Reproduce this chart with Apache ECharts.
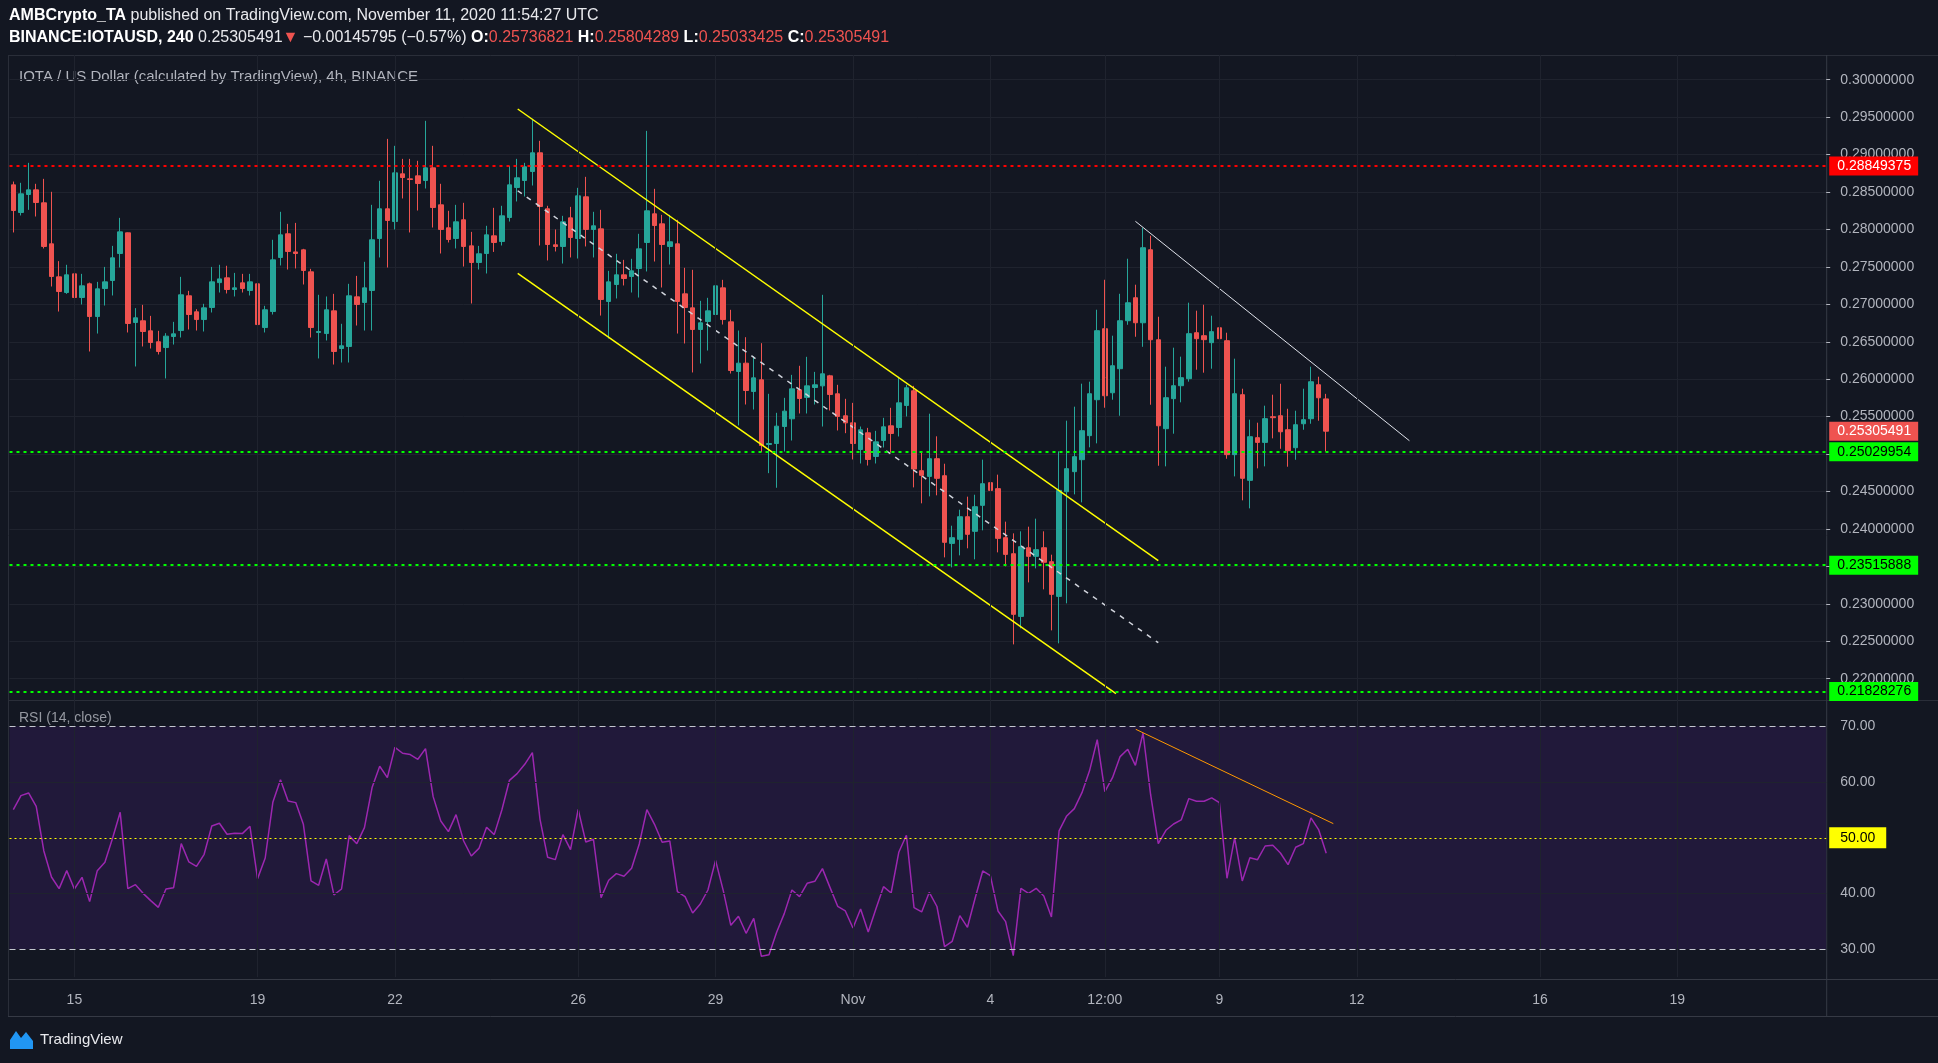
<!DOCTYPE html>
<html><head><meta charset="utf-8">
<script src="https://cdn.jsdelivr.net/npm/echarts@6.0.0/dist/echarts.min.js"></script>
<style>html,body{margin:0;padding:0;background:#131722;overflow:hidden}#c{width:1938px;height:1063px}</style>
</head><body><div id="c"></div>
<script>
// ---------------- DATA ----------------
const opens = [
0.28596,0.28227,0.28467,0.28529,0.28356,0.27808,0.27367,0.27158,0.27407,0.27091,
0.27274,0.26837,0.27211,0.27318,0.27679,0.27955,0.26757,0.26780,0.26646,0.26500,
0.26423,0.26570,0.26650,0.27114,0.26900,0.26797,0.26958,0.27290,0.27354,0.27198,
0.27287,0.27185,0.27274,0.26690,0.26904,0.27626,0.27942,0.27700,0.27728,0.27434,
0.26624,0.26610,0.26913,0.26410,0.26437,0.27100,0.27025,0.27185,0.27879,0.28276,
0.28106,0.28743,0.28676,0.28716,0.28654,0.28823,0.28329,0.28022,0.27879,0.28129,
0.27781,0.27559,0.27679,0.27915,0.27839,0.28160,0.28560,0.28654,0.28774,0.29024,
0.28276,0.27795,0.27773,0.28155,0.27879,0.28436,0.28000,0.28008,0.27038,0.27265,
0.27394,0.27372,0.27479,0.27826,0.28209,0.28075,0.27773,0.27808,0.27140,0.26953,
0.26664,0.26771,0.26864,0.27220,0.26766,0.26103,0.26214,0.25836,0.25992,0.25128,
0.25141,0.25368,0.25471,0.25858,0.25756,0.25889,0.25911,0.26045,0.25805,0.25511,
0.25417,0.25061,0.25284,0.24968,0.25181,0.25377,0.25355,0.25649,0.25845,0.24778,
0.24702,0.24938,0.24711,0.23807,0.23861,0.24163,0.23968,0.24315,0.24618,0.24538,
0.23883,0.23669,0.22832,0.23749,0.23634,0.23749,0.23562,0.23099,0.24497,0.24765,
0.24925,0.25246,0.25726,0.26674,0.25819,0.26140,0.26781,0.27088,0.26754,0.27729,
0.26527,0.25339,0.25740,0.25913,0.26007,0.26621,0.26581,0.26488,0.26687,0.26514,
0.24992,0.25793,0.24649,0.25219,0.25156,0.25499,0.25512,0.25325,0.25085,0.25405,
0.25472,0.25926,0.25736821];
const highs = [
0.28640,0.28623,0.28890,0.28610,0.28676,0.28503,0.27577,0.27528,0.27563,0.27407,
0.27290,0.27300,0.27500,0.27781,0.28155,0.27960,0.26949,0.26993,0.26846,0.26646,
0.26615,0.26766,0.27367,0.27180,0.26935,0.27007,0.27500,0.27528,0.27515,0.27420,
0.27407,0.27407,0.27380,0.26980,0.27862,0.28236,0.28075,0.28088,0.27741,0.27474,
0.27127,0.27105,0.27140,0.26740,0.27274,0.27380,0.27568,0.28329,0.28650,0.29210,
0.29117,0.28943,0.28943,0.28917,0.29451,0.29117,0.28610,0.28249,0.28329,0.28356,
0.27968,0.27781,0.28049,0.28289,0.28316,0.28850,0.28943,0.28890,0.29478,0.29184,
0.28316,0.28000,0.28182,0.28302,0.28556,0.28703,0.28236,0.28262,0.27447,0.27675,
0.27594,0.27608,0.27942,0.29317,0.28543,0.28195,0.28195,0.28129,0.27488,0.27461,
0.27047,0.27087,0.27474,0.27327,0.26927,0.26650,0.26561,0.26308,0.26481,0.25805,
0.25551,0.25751,0.26058,0.26179,0.26299,0.26098,0.27127,0.26058,0.25925,0.25738,
0.25684,0.25368,0.25350,0.25310,0.25484,0.25618,0.26032,0.25925,0.25911,0.25023,
0.25539,0.25237,0.24871,0.24043,0.24257,0.24431,0.24457,0.24925,0.25032,0.24725,
0.24097,0.23941,0.23968,0.24030,0.24137,0.23968,0.23656,0.25036,0.25446,0.25633,
0.25940,0.25967,0.26928,0.27328,0.26581,0.27141,0.27609,0.27262,0.28023,0.27916,
0.26834,0.26167,0.26421,0.26301,0.27022,0.26915,0.26995,0.26848,0.27182,0.26621,
0.26274,0.25873,0.25459,0.25419,0.25646,0.25793,0.25939,0.25605,0.25579,0.25873,
0.26167,0.26033,0.25804289];
const lows = [
0.27960,0.28187,0.28262,0.28173,0.27746,0.27238,0.26904,0.27140,0.26931,0.26998,
0.26370,0.26610,0.26984,0.27118,0.27492,0.26624,0.26170,0.26437,0.26410,0.26330,
0.26010,0.26463,0.26557,0.26664,0.26650,0.26637,0.26891,0.27158,0.27145,0.27105,
0.27158,0.27118,0.26650,0.26624,0.26864,0.27519,0.27465,0.27479,0.27265,0.26557,
0.26277,0.26517,0.26196,0.26223,0.26223,0.26717,0.26650,0.26650,0.27626,0.27492,
0.28000,0.28414,0.27960,0.28253,0.28547,0.28026,0.27679,0.27826,0.27746,0.27505,
0.27011,0.27465,0.27412,0.27700,0.27786,0.28106,0.28374,0.28440,0.28587,0.27786,
0.27586,0.27706,0.27545,0.27626,0.27612,0.27773,0.27626,0.26850,0.26544,0.27078,
0.27252,0.27158,0.27091,0.27439,0.27572,0.27225,0.27532,0.26610,0.26477,0.26090,
0.26210,0.26383,0.26624,0.26730,0.26076,0.25382,0.25662,0.25595,0.25025,0.24745,
0.24550,0.25034,0.25181,0.25542,0.25542,0.25662,0.25368,0.25582,0.25315,0.25279,
0.24928,0.24874,0.24847,0.24874,0.25088,0.25021,0.25235,0.25502,0.24555,0.24342,
0.24435,0.24449,0.23620,0.23487,0.23647,0.23741,0.23594,0.23981,0.23687,0.23687,
0.23500,0.22458,0.22672,0.23286,0.23473,0.23193,0.22645,0.22472,0.23006,0.24462,
0.24355,0.25090,0.25143,0.25619,0.25726,0.25512,0.26727,0.26567,0.26433,0.25659,
0.24844,0.24836,0.25272,0.25691,0.25967,0.26127,0.26087,0.26140,0.26340,0.24938,
0.24702,0.24382,0.24275,0.24809,0.24836,0.25210,0.25071,0.24831,0.24924,0.25325,
0.25405,0.25445,0.25033425];
const closes = [
0.28253,0.28476,0.28529,0.28360,0.27773,0.27372,0.27171,0.27394,0.27091,0.27247,
0.26837,0.27207,0.27300,0.27621,0.27968,0.26744,0.26820,0.26637,0.26490,0.26370,
0.26575,0.26606,0.27127,0.26864,0.26797,0.26953,0.27300,0.27340,0.27198,0.27220,
0.27211,0.27300,0.26730,0.26927,0.27594,0.27928,0.27706,0.27679,0.27452,0.26690,
0.26637,0.26927,0.26370,0.26446,0.27114,0.26998,0.27220,0.27862,0.28276,0.28120,
0.28756,0.28694,0.28667,0.28614,0.28823,0.28293,0.28000,0.27866,0.28102,0.27773,
0.27559,0.27675,0.27928,0.27826,0.28182,0.28596,0.28690,0.28837,0.29024,0.28307,
0.27799,0.27773,0.28102,0.27893,0.28449,0.28000,0.28049,0.27065,0.27300,0.27394,
0.27345,0.27447,0.27741,0.28249,0.28053,0.27799,0.27835,0.27038,0.26958,0.26664,
0.26753,0.26913,0.27247,0.26797,0.26116,0.26214,0.25849,0.26018,0.25114,0.25141,
0.25373,0.25573,0.25871,0.25742,0.25911,0.25925,0.26072,0.25796,0.25502,0.25417,
0.25141,0.25324,0.24928,0.25163,0.25364,0.25275,0.25684,0.25885,0.24800,0.24716,
0.24938,0.24676,0.23821,0.23883,0.24163,0.23928,0.24297,0.24604,0.24515,0.23874,
0.23660,0.22859,0.23763,0.23634,0.23723,0.23554,0.23126,0.24515,0.24805,0.24965,
0.25312,0.25806,0.26648,0.25779,0.26180,0.26781,0.27021,0.26754,0.27756,0.26527,
0.25378,0.25753,0.25913,0.26020,0.26608,0.26541,0.26528,0.26635,0.26541,0.24992,
0.25806,0.24676,0.25232,0.25156,0.25473,0.25486,0.25298,0.25045,0.25392,0.25459,
0.25966,0.25752,0.25305491];
const rsiValues = [
55.05,57.56,58.04,55.65,47.64,42.97,40.88,44.11,40.82,42.91,
38.55,44.11,45.61,49.91,54.57,40.88,41.60,40.04,38.73,37.53,
40.82,41.06,48.95,45.67,44.89,47.04,52.12,52.60,50.63,50.81,
50.75,52.06,42.68,46.38,56.37,60.43,56.61,56.31,52.42,42.26,
41.48,46.20,39.75,40.82,50.39,48.95,51.82,59.00,62.83,60.79,
66.23,65.16,64.92,64.08,65.99,57.38,53.02,51.11,54.16,49.43,
46.74,48.10,51.88,50.57,54.99,60.31,61.51,63.18,65.28,53.32,
46.50,46.08,50.57,47.88,55.11,49.25,49.73,39.27,42.38,43.57,
43.09,44.53,48.89,55.05,52.42,49.19,49.43,40.34,39.45,36.52,
38.13,40.64,45.96,40.58,34.30,35.92,32.87,35.56,28.74,29.04,
33.05,36.40,40.64,39.45,41.84,42.20,44.47,41.06,37.71,36.88,
33.83,37.23,33.11,37.23,41.24,40.10,47.40,50.45,37.47,36.70,
40.22,37.68,30.48,31.44,36.04,33.95,39.15,44.05,43.21,36.88,
34.96,28.86,40.94,40.04,40.94,39.57,35.80,51.23,53.92,55.23,
58.10,62.05,67.61,58.28,60.79,64.56,65.87,63.00,68.80,57.68,
48.95,51.35,52.48,53.20,57.03,56.55,56.55,57.15,56.31,42.74,
49.97,42.26,46.44,46.08,48.53,48.65,47.28,45.19,48.30,48.95,
53.56,51.47,47.22];

// x-axis tick labels (category -> text)
const tickCats  = ['Oct 15 00:00','Oct 19 00:00','Oct 22 00:00','Oct 26 00:00','Oct 29 00:00','Nov 1 00:00','Nov 4 00:00','Nov 6 12:00','Nov 9 00:00','Nov 12 00:00','Nov 16 00:00','Nov 19 00:00'];
const tickTexts = ['15','19','22','26','29','Nov','4','12:00','9','12','16','19'];

// horizontal levels
const resistanceLevels = [0.28849375];
const supportLevels = [0.25029954, 0.23515888, 0.21828276];
const lastPrice = 0.25305491;

// trend lines: [candle index, price]
const channelUpper = [[66.08, 0.29609], [150.0, 0.23576]];
const channelLower = [[66.08, 0.27414], [144.46, 0.21799]];
const channelMid   = [[66.08, 0.28517], [150.0, 0.22480]];
const descLine     = [[147.0, 0.28109], [182.9, 0.25178]];
const rsiTrend     = [[147.05, 69.46], [172.93, 52.54]];

// ---------------- LAYOUT ----------------
const FONT = '"Liberation Sans", Arial, sans-serif';
const BG = '#131722', GRIDC = '#1f232e', TXT = '#b2b5be', FRAME = '#2a2e39';
const N_SLOTS = 238;
const L = 9.5, W = 1816.7, AX = L + W;
const MONTHS = ['Jan','Feb','Mar','Apr','May','Jun','Jul','Aug','Sep','Oct','Nov','Dec'];
const startUTC = Date.UTC(2020, 9, 13, 16);
const categories = [];
for (let i = 0; i < N_SLOTS; i++) {
  const d = new Date(startUTC + i * 4 * 3600 * 1000);
  categories.push(MONTHS[d.getUTCMonth()] + ' ' + d.getUTCDate() + ' ' + String(d.getUTCHours()).padStart(2, '0') + ':00');
}
const tickMap = {};
tickCats.forEach((c, i) => tickMap[c] = tickTexts[i]);
const tickIdx = tickCats.map(c => categories.indexOf(c));

const candleData = opens.map((o, i) => [o, closes[i], lows[i], highs[i]]);

function levelLine(v, lineColor, bg, fg, showLine) {
  return {
    yAxis: v,
    lineStyle: { color: showLine ? lineColor : 'transparent', type: [3, 4], width: 2 },
    label: { show: true, position: 'end', distance: 3, formatter: v.toFixed(8),
      backgroundColor: bg, color: fg, padding: [3, 7, 2, 8], fontSize: 14, fontFamily: FONT }
  };
}

const chart = echarts.init(document.getElementById('c'), null, { renderer: 'canvas' });
chart.setOption({
  animation: false,
  backgroundColor: BG,
  grid: [
    { left: L, width: W, top: 42.3, height: 673.8 },
    { left: L, width: W, top: 698.4, height: 278.8 }
  ],
  xAxis: [
    { type: 'category', gridIndex: 0, data: categories, boundaryGap: true,
      axisLine: { show: false }, axisTick: { show: false }, axisLabel: { show: false }, splitLine: { show: false } },
    { type: 'category', gridIndex: 1, data: categories, boundaryGap: true,
      axisLine: { show: false }, axisTick: { show: false }, splitLine: { show: false },
      axisLabel: { show: true, interval: (i, v) => tickMap[v] !== undefined, formatter: v => tickMap[v] || '',
        color: TXT, fontSize: 14, fontFamily: FONT, margin: 16 } },
    { type: 'value', gridIndex: 0, min: -0.5, max: N_SLOTS - 0.5, show: false },
    { type: 'value', gridIndex: 1, min: -0.5, max: N_SLOTS - 0.5, show: false }
  ],
  yAxis: [
    { type: 'value', gridIndex: 0, position: 'right', min: 0.215, max: 0.305, interval: 0.005,
      axisLine: { show: false, onZero: false },
      axisTick: { show: true, length: 4, lineStyle: { color: TXT } },
      axisLabel: { color: TXT, fontSize: 14, fontFamily: FONT, margin: 14, showMinLabel: false, showMaxLabel: false,
        formatter: v => v.toFixed(8) },
      splitLine: { show: true, showMinLine: false, showMaxLine: false, lineStyle: { color: GRIDC, width: 1 } } },
    { type: 'value', gridIndex: 1, position: 'right', min: 25, max: 75, interval: 5,
      axisLine: { show: false, onZero: false }, axisTick: { show: false }, splitLine: { show: false },
      axisLabel: { color: TXT, fontSize: 14, fontFamily: FONT, margin: 14,
        formatter: v => ([30, 40, 60, 70].indexOf(Math.round(v)) >= 0 ? v.toFixed(2) : '') } }
  ],
  series: [
    // vertical grid lines, price pane
    { type: 'line', xAxisIndex: 0, yAxisIndex: 0, data: [], z: 1, silent: true,
      markLine: { silent: true, precision: 10, symbol: ['none', 'none'], label: { show: false },
        lineStyle: { color: GRIDC, type: 'solid', width: 1 },
        data: tickIdx.map(i => [{ coord: [i, 0.3033] }, { coord: [i, 0.21715] }]) } },
    // vertical grid lines, RSI pane + band + levels
    { type: 'line', xAxisIndex: 1, yAxisIndex: 1, data: [], z: 1, silent: true,
      markArea: { silent: true, itemStyle: { color: '#21193a' }, data: [[{ yAxis: 30 }, { yAxis: 70 }]] },
      markLine: { silent: true, precision: 10, symbol: ['none', 'none'], label: { show: false },
        lineStyle: { color: GRIDC, type: 'solid', width: 1 },
        data: tickIdx.map(i => [{ coord: [i, 75] }, { coord: [i, 25] }])
          .concat([{ yAxis: 60 }, { yAxis: 40 }]) } },
    { type: 'candlestick', name: 'IOTAUSD', xAxisIndex: 0, yAxisIndex: 0, data: candleData, barWidth: 5, z: 3,
      itemStyle: { color: '#26a69a', color0: '#ef5350', borderColor: '#26a69a', borderColor0: '#ef5350', borderWidth: 1 },
      markLine: { silent: true, precision: 10, symbol: ['none', 'none'],
        data: resistanceLevels.map(v => levelLine(v, '#ff0000', '#ff0000', '#ffffff', true))
          .concat(supportLevels.map(v => levelLine(v, '#00ff00', '#00ff00', '#000000', true)))
          .concat([levelLine(lastPrice, '#ef5350', '#ef5350', '#ffffff', false)]) } },
    { type: 'line', xAxisIndex: 2, yAxisIndex: 0, data: channelUpper, showSymbol: false, silent: true, z: 4,
      lineStyle: { color: '#ffff00', width: 1.5 } },
    { type: 'line', xAxisIndex: 2, yAxisIndex: 0, data: channelLower, showSymbol: false, silent: true, z: 4,
      lineStyle: { color: '#ffff00', width: 1.5 } },
    { type: 'line', xAxisIndex: 2, yAxisIndex: 0, data: channelMid, showSymbol: false, silent: true, z: 4,
      lineStyle: { color: '#d1d4dc', width: 1.5, type: [5, 6] } },
    { type: 'line', xAxisIndex: 2, yAxisIndex: 0, data: descLine, showSymbol: false, silent: true, z: 4,
      lineStyle: { color: '#e0e3eb', width: 1 } },
    { type: 'line', name: 'RSI', xAxisIndex: 1, yAxisIndex: 1, data: rsiValues, showSymbol: false, silent: true, z: 4,
      lineStyle: { color: '#9c27b0', width: 1.5 },
      markLine: { silent: true, precision: 10, symbol: ['none', 'none'],
        data: [
          { yAxis: 70, lineStyle: { color: '#c3c6ce', type: [6, 4], width: 1 }, label: { show: false } },
          { yAxis: 30, lineStyle: { color: '#c3c6ce', type: [6, 4], width: 1 }, label: { show: false } },
          { yAxis: 50, lineStyle: { color: '#ffff00', type: [2, 3], width: 1 },
            label: { show: true, position: 'end', distance: 3, formatter: '50.00', backgroundColor: '#ffff00',
              color: '#000000', padding: [4, 11, 3, 11], fontSize: 14, fontFamily: FONT } }
        ] } },
    { type: 'line', xAxisIndex: 3, yAxisIndex: 1, data: rsiTrend, showSymbol: false, silent: true, z: 5,
      lineStyle: { color: '#ff9800', width: 1 } }
  ],
  graphic: [
    { type: 'line', shape: { x1: 8, y1: 55.5, x2: 1938, y2: 55.5 }, style: { stroke: FRAME, lineWidth: 1 }, silent: true },
    { type: 'line', shape: { x1: 8.5, y1: 55, x2: 8.5, y2: 1016 }, style: { stroke: FRAME, lineWidth: 1 }, silent: true },
    { type: 'line', shape: { x1: 8, y1: 700.5, x2: 1938, y2: 700.5 }, style: { stroke: FRAME, lineWidth: 1 }, silent: true },
    { type: 'line', shape: { x1: 8, y1: 979.5, x2: 1938, y2: 979.5 }, style: { stroke: '#363a45', lineWidth: 1 }, silent: true },
    { type: 'line', shape: { x1: 8, y1: 1016.5, x2: 1938, y2: 1016.5 }, style: { stroke: '#363a45', lineWidth: 1 }, silent: true },
    { type: 'line', shape: { x1: AX + 0.5, y1: 55, x2: AX + 0.5, y2: 1016 }, style: { stroke: '#363a45', lineWidth: 1 }, silent: true },
    { type: 'text', x: 9, y: 16, silent: true,
      style: { text: '{b|AMBCrypto_TA} published on TradingView.com, November 11, 2020 11:54:27 UTC',
        fill: '#e8e9ed', fontSize: 16, fontFamily: FONT, verticalAlign: 'middle',
        rich: { b: { fontWeight: 'bold', fill: '#ffffff', fontSize: 16, fontFamily: FONT } } } },
    { type: 'text', x: 9, y: 38, silent: true,
      style: { text: '{b|BINANCE:IOTAUSD, 240} 0.25305491{r|▼} −0.00145795 (−0.57%) {b|O:}{r|0.25736821} {b|H:}{r|0.25804289} {b|L:}{r|0.25033425} {b|C:}{r|0.25305491}',
        fill: '#e8e9ed', fontSize: 16, fontFamily: FONT, verticalAlign: 'middle',
        rich: { b: { fontWeight: 'bold', fill: '#ffffff', fontSize: 16, fontFamily: FONT },
                r: { fill: '#ef5350', fontSize: 16, fontFamily: FONT } } } },
    { type: 'text', x: 19, y: 77, silent: true,
      style: { text: 'IOTA / US Dollar (calculated by TradingView), 4h, BINANCE', fill: TXT, fontSize: 15, fontFamily: FONT, verticalAlign: 'middle' } },
    { type: 'text', x: 19, y: 718, silent: true,
      style: { text: 'RSI (14, close)', fill: '#9598a1', fontSize: 14, fontFamily: FONT, verticalAlign: 'middle' } },
    { type: 'polygon', silent: true,
      shape: { points: [[10, 1049], [10, 1040], [16, 1031], [21, 1038], [26, 1032], [33, 1041], [33, 1049]] },
      style: { fill: '#2196f3' } },
    { type: 'text', x: 40, y: 1040, silent: true,
      style: { text: 'TradingView', fill: '#e8e9ed', fontSize: 15, fontFamily: FONT, verticalAlign: 'middle' } }
  ]
});
</script></body></html>
